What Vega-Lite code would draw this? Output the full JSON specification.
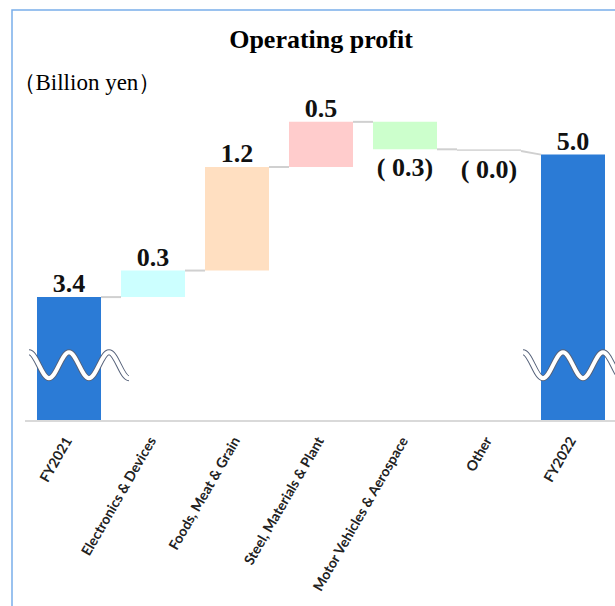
{
  "$schema": "https://vega.github.io/schema/vega-lite/v6.json",
  "width": 618,
  "height": 600,
  "padding": {"left": 12, "top": 10, "right": 0, "bottom": 0},
  "autosize": {"type": "pad"},
  "background": "white",
  "config": {"view": {"stroke": "#7aaeea", "strokeWidth": 1.5}},
  "title": {"text": "Operating profit", "frame": "group", "anchor": "middle", "offset": -64, "baseline": "alphabetic", "font": "Liberation Serif", "fontSize": 26, "fontWeight": "bold", "color": "#000000"},
  "datasets": {
    "bars": [
      {"cat": "FY2021", "kind": "total", "start": 0, "end": 3.40, "label": "3.4"},
      {"cat": "Electronics & Devices", "kind": "change", "start": 3.40, "end": 3.70, "label": "0.3"},
      {"cat": "Foods, Meat & Grain", "kind": "change", "start": 3.70, "end": 4.87, "label": "1.2"},
      {"cat": "Steel, Materials & Plant", "kind": "change", "start": 4.87, "end": 5.38, "label": "0.5"},
      {"cat": "Motor Vehicles & Aerospace", "kind": "change", "start": 5.38, "end": 5.07, "label": "( 0.3)"},
      {"cat": "Other", "kind": "change", "start": 5.07, "end": 5.05, "label": "( 0.0)"},
      {"cat": "FY2022", "kind": "total", "start": 0, "end": 5.01, "label": "5.0"}
    ],
    "links": [
      {"from": "FY2021", "to": "Electronics & Devices", "y1": 3.40, "y2": 3.40},
      {"from": "Electronics & Devices", "to": "Foods, Meat & Grain", "y1": 3.70, "y2": 3.70},
      {"from": "Foods, Meat & Grain", "to": "Steel, Materials & Plant", "y1": 4.87, "y2": 4.87},
      {"from": "Steel, Materials & Plant", "to": "Motor Vehicles & Aerospace", "y1": 5.38, "y2": 5.38},
      {"from": "Motor Vehicles & Aerospace", "to": "Other", "y1": 5.07, "y2": 5.07},
      {"from": "Other", "to": "FY2022", "y1": 5.05, "y2": 5.01}
    ],
    "breaks": [
      {"cat": "FY2021", "brk": 2.63},
      {"cat": "FY2022", "brk": 2.63}
    ]
  },
  "layer": [
    {
      "data": {"name": "bars"},
      "transform": [{"filter": "datum.kind === 'total'"}],
      "mark": {"type": "bar"},
      "encoding": {
        "x": {"field": "cat", "type": "nominal", "scale": {"domain": ["FY2021", "Electronics & Devices", "Foods, Meat & Grain", "Steel, Materials & Plant", "Motor Vehicles & Aerospace", "Other", "FY2022"], "paddingInner": 0.238, "paddingOuter": 0.2976},
          "axis": {"orient": "bottom", "offset": -189, "zindex": 1, "title": null, "domain": false, "ticks": false, "grid": false, "labelAngle": -60, "labelAlign": "right", "labelBaseline": "middle", "labelPadding": 17, "labelFont": "Lato", "labelFontSize": 14, "labelFontWeight": "bold", "labelColor": "#222222", "labelLimit": 300}},
        "y": {"field": "end", "type": "quantitative", "scale": {"domain": [-0.1356, 6.644], "nice": false, "zero": false},
          "axis": {"title": "（Billion yen）", "zindex": 1, "labels": false, "ticks": false, "domain": false, "grid": false, "titleAngle": 0, "titleX": 0, "titleY": 79, "titleAlign": "left", "titleBaseline": "alphabetic", "titleFont": "Liberation Serif", "titleFontSize": 23, "titleFontWeight": "normal", "titleColor": "#000000"}},
        "y2": {"datum": 2},
        "color": {"field": "cat", "type": "nominal", "legend": null,
          "scale": {"domain": ["FY2021", "Electronics & Devices", "Foods, Meat & Grain", "Steel, Materials & Plant", "Motor Vehicles & Aerospace", "Other", "FY2022"],
                    "range": ["#2b7bd6", "#ccffff", "#ffdfc1", "#ffcccc", "#ccffcc", "#d9d9d9", "#2b7bd6"]}}
      }
    },
    {
      "data": {"values": [{"a": "FY2021", "b": "FY2022"}]},
      "mark": {"type": "rule", "color": "#d9d9d9", "strokeWidth": 2, "xOffset": -12, "x2Offset": 12},
      "encoding": {
        "x": {"field": "a", "type": "nominal", "bandPosition": 0},
        "x2": {"field": "b", "bandPosition": 1},
        "y": {"datum": 2, "type": "quantitative"}
      }
    },
    {
      "data": {"name": "bars"},
      "transform": [{"filter": "datum.kind === 'change'"}],
      "mark": {"type": "bar"},
      "encoding": {
        "x": {"field": "cat", "type": "nominal"},
        "y": {"field": "start", "type": "quantitative"},
        "y2": {"field": "end"},
        "color": {"field": "cat", "type": "nominal", "legend": null}
      }
    },
    {
      "data": {"name": "links"},
      "mark": {"type": "rule", "color": "#d0d0d0", "strokeWidth": 2},
      "encoding": {
        "x": {"field": "from", "type": "nominal", "bandPosition": 1},
        "x2": {"field": "to", "bandPosition": 0},
        "y": {"field": "y1", "type": "quantitative"},
        "y2": {"field": "y2"}
      }
    },
    {
      "data": {"name": "breaks"},
      "mark": {"type": "point", "shape": "M-1,-0.26C-0.854,-0.26 -0.746,0.26 -0.6,0.26C-0.454,0.26 -0.346,-0.26 -0.2,-0.26C-0.054,-0.26 0.054,0.26 0.2,0.26C0.346,0.26 0.454,-0.26 0.6,-0.26C0.746,-0.26 0.854,0.26 1,0.26", "size": 10000, "filled": false, "stroke": "#56627a", "strokeWidth": 6, "opacity": 1, "xOffset": {"expr": "datum.cat === 'FY2021' ? 10 : 0"}},
      "encoding": {
        "x": {"field": "cat", "type": "nominal"},
        "y": {"field": "brk", "type": "quantitative"}
      }
    },
    {
      "data": {"name": "breaks"},
      "mark": {"type": "point", "shape": "M-1,-0.26C-0.854,-0.26 -0.746,0.26 -0.6,0.26C-0.454,0.26 -0.346,-0.26 -0.2,-0.26C-0.054,-0.26 0.054,0.26 0.2,0.26C0.346,0.26 0.454,-0.26 0.6,-0.26C0.746,-0.26 0.854,0.26 1,0.26", "size": 10000, "filled": false, "stroke": "#ffffff", "strokeWidth": 4, "opacity": 1, "xOffset": {"expr": "datum.cat === 'FY2021' ? 10 : 0"}},
      "encoding": {
        "x": {"field": "cat", "type": "nominal"},
        "y": {"field": "brk", "type": "quantitative"}
      }
    },
    {
      "data": {"name": "bars"},
      "transform": [{"filter": "datum.end >= datum.start"}],
      "mark": {"type": "text", "baseline": "alphabetic", "dy": -5, "font": "Liberation Serif", "fontSize": 26, "fontWeight": "bold", "color": "#111111"},
      "encoding": {
        "x": {"field": "cat", "type": "nominal"},
        "y": {"field": "end", "type": "quantitative"},
        "text": {"field": "label"}
      }
    },
    {
      "data": {"name": "bars"},
      "transform": [{"filter": "datum.end < datum.start"}],
      "mark": {"type": "text", "baseline": "alphabetic", "dy": 27, "font": "Liberation Serif", "fontSize": 26, "fontWeight": "bold", "color": "#111111"},
      "encoding": {
        "x": {"field": "cat", "type": "nominal"},
        "y": {"field": "end", "type": "quantitative"},
        "text": {"field": "label"}
      }
    }
  ]
}
